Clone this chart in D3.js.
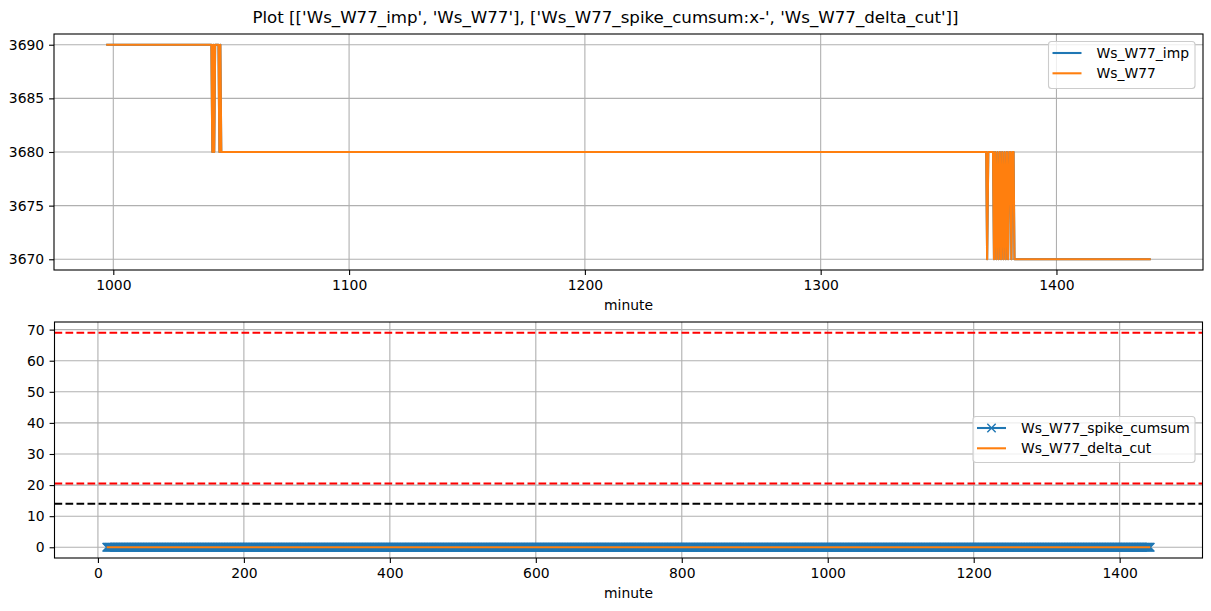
<!DOCTYPE html>
<html><head><meta charset="utf-8">
<script src="https://cdn.jsdelivr.net/npm/d3@7"></script>
<style>body{margin:0;background:#fff}svg{display:block}text{font-family:"DejaVu Sans",sans-serif}</style>
</head><body><div id="chart"></div>
<script>
// ---- data ----
const title = "Plot [['Ws_W77_imp', 'Ws_W77'], ['Ws_W77_spike_cumsum:x-', 'Ws_W77_delta_cut']]";
// top panel: minute / value change points of Ws_W77 (Ws_W77_imp identical, hidden underneath)
const topMinutes = [997,1041.6,1042,1042.4,1042.8,1043.2,1043.4,1044.6,1045,1045.4,1045.8,
  1370.2,1370.6,1371.1,1373.1,1373.5,1374,1374.5,1375,1375.5,1376,1376.5,1377,1377.5,1378,1378.5,1379,1379.5,1380,1380.4,1380.9,1381.3,1381.8,1382.2,1440];
const topValues  = [3690,3690,3680,3690,3680,3690,3690,3690,3680,3690,3680,
  3680,3670,3680,3680,3670,3680,3670,3680,3670,3680,3670,3680,3670,3680,3670,3680,3670,3680,3680,3670,3680,3680,3670,3670];
const topXTicks = [1000,1100,1200,1300,1400];
const topYTicks = [3670,3675,3680,3685,3690];
const topSeries = ["Ws_W77_imp","Ws_W77"];
// bottom panel: spike cumsum and delta cut are 0 at every minute from 12 to 1442
const botFirstMinute = 12, botLastMinute = 1442;
const cumsumValue = 0, deltaCutValue = 0;
const redLines = [69, 20.5];
const blackLines = [14];
const botXTicks = [0,200,400,600,800,1000,1200,1400];
const botYTicks = [0,10,20,30,40,50,60,70];
const botSeries = ["Ws_W77_spike_cumsum","Ws_W77_delta_cut"];

const W=1211,H=611;
const C0="#1f77b4",C1="#ff7f0e";
const svg=d3.select("#chart").append("svg").attr("width",W).attr("height",H);
svg.append("text").attr("x",605.5).attr("y",23).attr("text-anchor","middle").attr("font-size","16.67px").text(title);

function pad(lo,hi){const s=hi-lo;return [lo-0.05*s,hi+0.05*s];}

function panel(box,xdom,ydom,xticks,yticks){
  const x=d3.scaleLinear().domain(xdom).range([box.l,box.r]);
  const y=d3.scaleLinear().domain(ydom).range([box.b,box.t]);
  const g=svg.append("g");
  g.append("g").selectAll("line").data(xticks).join("line")
    .attr("x1",d=>x(d)).attr("x2",d=>x(d)).attr("y1",box.t).attr("y2",box.b)
    .attr("stroke","#b0b0b0").attr("stroke-width",1.1);
  g.append("g").selectAll("line").data(yticks).join("line")
    .attr("y1",d=>y(d)).attr("y2",d=>y(d)).attr("x1",box.l).attr("x2",box.r)
    .attr("stroke","#b0b0b0").attr("stroke-width",1.1);
  const clip="c"+Math.round(box.t);
  svg.append("clipPath").attr("id",clip).append("rect").attr("x",box.l).attr("y",box.t).attr("width",box.r-box.l).attr("height",box.b-box.t);
  const plot=svg.append("g").attr("clip-path",`url(#${clip})`);
  return {x,y,g,plot,box};
}
function finishAxes(p,xticks,yticks){
  const {x,y,box}=p;
  const ax=svg.append("g");
  const xa=d3.axisBottom(x).tickValues(xticks).tickSize(4.9).tickPadding(4.9).tickFormat(d3.format("d"));
  const ya=d3.axisLeft(y).tickValues(yticks).tickSize(4.9).tickPadding(4.9).tickFormat(d3.format("d"));
  const gx=ax.append("g").attr("transform",`translate(0,${box.b})`).call(xa);
  const gy=ax.append("g").attr("transform",`translate(${box.l},0)`).call(ya);
  [gx,gy].forEach(a=>{a.select(".domain").remove();a.selectAll("line").attr("stroke","#000").attr("stroke-width",1.1);
    a.selectAll("text").attr("font-size","13.9px").attr("font-family","DejaVu Sans").attr("fill","#000");});
  ax.append("rect").attr("x",box.l).attr("y",box.t).attr("width",box.r-box.l).attr("height",box.b-box.t)
    .attr("fill","none").attr("stroke","#000").attr("stroke-width",1.1);
  ax.append("text").attr("x",(box.l+box.r)/2).attr("y",box.b+40).attr("text-anchor","middle").attr("font-size","13.9px").text("minute");
}
function legend(bx,by,bw,bh,items){
  const g=svg.append("g");
  g.append("rect").attr("x",bx).attr("y",by).attr("width",bw).attr("height",bh).attr("rx",3)
    .attr("fill","#fff").attr("fill-opacity",0.8).attr("stroke","#cccccc").attr("stroke-width",1.1);
  items.forEach((it,i)=>{
    const yy=by+11.5+i*20.3;
    g.append("line").attr("x1",bx+4).attr("x2",bx+33).attr("y1",yy).attr("y2",yy).attr("stroke",it.c).attr("stroke-width",2.08);
    if(it.m){const cx=bx+18.5,s=4.17;
      g.append("path").attr("d",`M${cx-s},${yy-s}L${cx+s},${yy+s}M${cx-s},${yy+s}L${cx+s},${yy-s}`).attr("stroke",it.c).attr("stroke-width",1.39);}
    g.append("text").attr("x",bx+48).attr("y",yy+5).attr("font-size","13.9px").text(it.t);
  });
}

// ---- top panel ----
const topData=topMinutes.map((m,i)=>({m,v:topValues[i]}));
const pt=panel({l:54,r:1203,t:34,b:270},pad(d3.min(topMinutes),d3.max(topMinutes)),pad(d3.min(topValues),d3.max(topValues)),topXTicks,topYTicks);
const lineT=d3.line().x(d=>pt.x(d.m)).y(d=>pt.y(d.v));
[C0,C1].forEach(c=>pt.plot.append("path").datum(topData).attr("d",lineT).attr("fill","none").attr("stroke",c).attr("stroke-width",2.08).attr("stroke-linejoin","round"));
finishAxes(pt,topXTicks,topYTicks);
legend(1048.5,41.5,146.5,47,[{t:"Ws_W77_imp",c:C0},{t:"Ws_W77",c:C1}]);

// ---- bottom panel ----
const minutes=d3.range(botFirstMinute,botLastMinute+1);
const cums=minutes.map(m=>({m,v:cumsumValue}));
const dcut=minutes.map(m=>({m,v:deltaCutValue}));
const allY=[cumsumValue,deltaCutValue,...redLines,...blackLines];
const pb=panel({l:54.5,r:1202.5,t:322,b:558},pad(botFirstMinute,botLastMinute),pad(d3.min(allY),d3.max(allY)),botXTicks,botYTicks);
const lineB=d3.line().x(d=>pb.x(d.m)).y(d=>pb.y(d.v));
pb.plot.append("path").datum(cums).attr("d",lineB).attr("fill","none").attr("stroke",C0).attr("stroke-width",2.08);
pb.plot.append("g").selectAll("path").data(cums).join("path")
  .attr("d",d=>{const cx=pb.x(d.m),cy=pb.y(d.v),s=4.17;return `M${cx-s},${cy-s}L${cx+s},${cy+s}M${cx-s},${cy+s}L${cx+s},${cy-s}`;})
  .attr("stroke",C0).attr("stroke-width",1.39).attr("fill","none");
pb.plot.append("path").datum(dcut).attr("d",lineB).attr("fill","none").attr("stroke",C1).attr("stroke-width",2.08);
const hl=[...redLines.map(v=>({v,c:"red"})),...blackLines.map(v=>({v,c:"black"}))];
pb.plot.append("g").selectAll("line").data(hl).join("line")
  .attr("x1",pb.box.l).attr("x2",pb.box.r).attr("y1",d=>pb.y(d.v)).attr("y2",d=>pb.y(d.v))
  .attr("stroke",d=>d.c).attr("stroke-width",2.08).attr("stroke-dasharray","7.7,3.3");
finishAxes(pb,botXTicks,botYTicks);
legend(973,416.5,222,46,[{t:"Ws_W77_spike_cumsum",c:C0,m:true},{t:"Ws_W77_delta_cut",c:C1}]);
</script></body></html>
